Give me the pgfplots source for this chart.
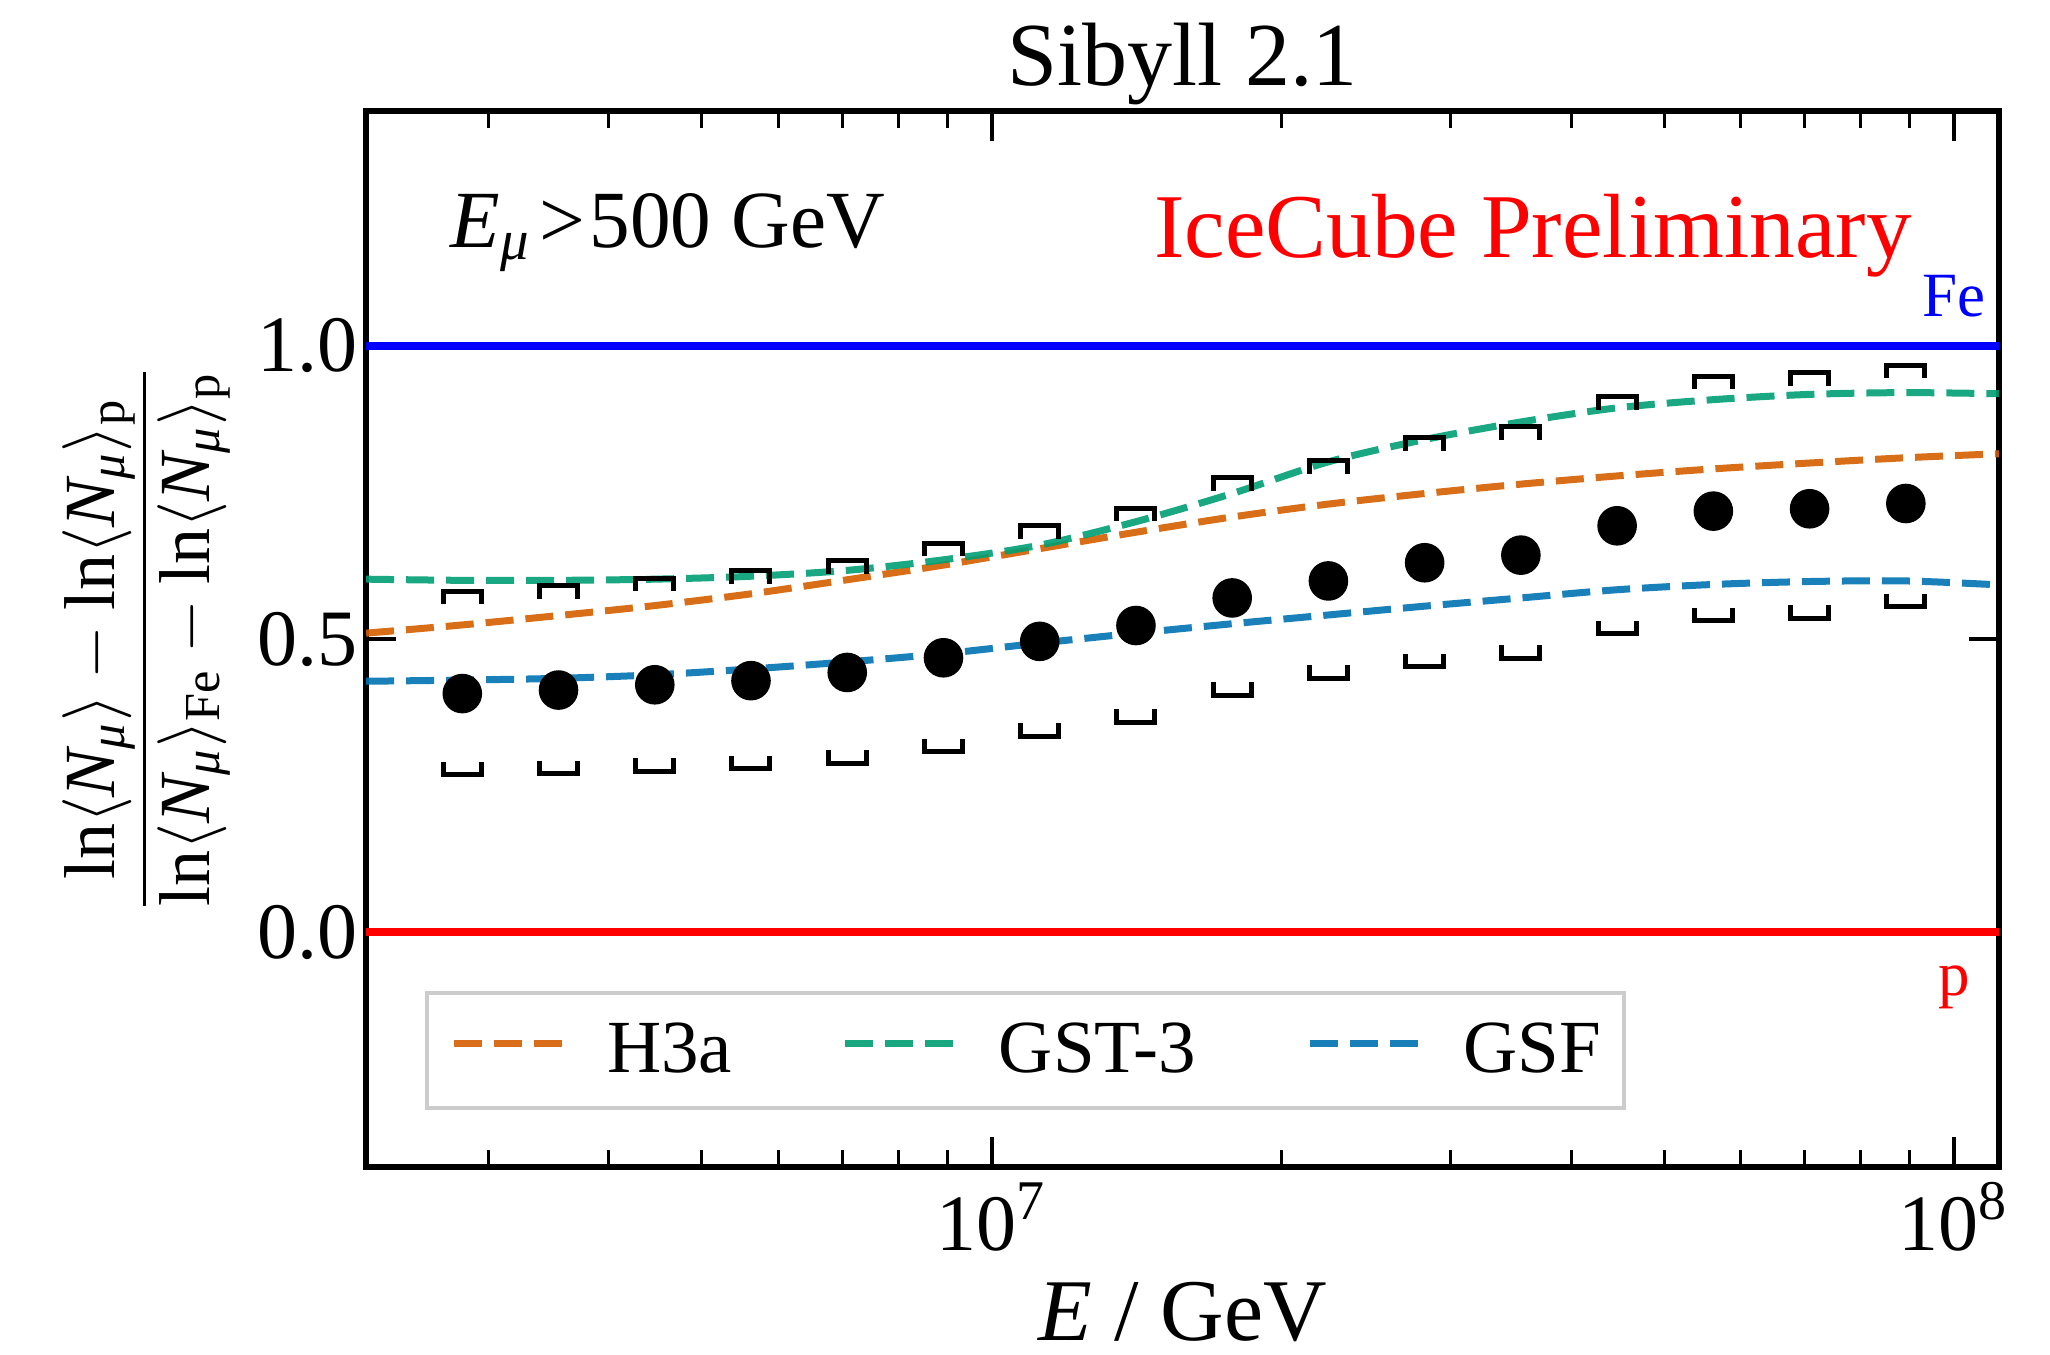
\documentclass[border=0pt]{standalone}
\usepackage{fontspec}
\setmainfont{Liberation Serif}
\usepackage{amsmath}
\usepackage{pgfplots}
\usepackage{pgfplotstable}
\pgfplotsset{compat=1.18}
\definecolor{cOrange}{HTML}{D55E00}
\definecolor{cGreen}{HTML}{009E73}
\definecolor{cBlue}{HTML}{0072B2}
\definecolor{legGray}{HTML}{CCCCCC}

\pgfdeclareplotmark{capup}{%
  \pgfpathmoveto{\pgfqpoint{-4.75pt}{-3.25pt}}%
  \pgfpathlineto{\pgfqpoint{-4.75pt}{0pt}}%
  \pgfpathlineto{\pgfqpoint{4.75pt}{0pt}}%
  \pgfpathlineto{\pgfqpoint{4.75pt}{-3.25pt}}%
  \pgfusepathqstroke}
\pgfdeclareplotmark{capdown}{%
  \pgfpathmoveto{\pgfqpoint{-4.75pt}{3.25pt}}%
  \pgfpathlineto{\pgfqpoint{-4.75pt}{0pt}}%
  \pgfpathlineto{\pgfqpoint{4.75pt}{0pt}}%
  \pgfpathlineto{\pgfqpoint{4.75pt}{3.25pt}}%
  \pgfusepathqstroke}

\pgfplotstableread{
E val up lo
2.8184e6 0.407 0.581 0.269
3.5481e6 0.413 0.591 0.270
4.4668e6 0.422 0.604 0.275
5.6234e6 0.429 0.616 0.279
7.0795e6 0.443 0.633 0.288
8.9125e6 0.468 0.663 0.308
1.1220e7 0.496 0.693 0.334
1.4125e7 0.523 0.723 0.358
1.7783e7 0.570 0.775 0.404
2.2387e7 0.599 0.804 0.433
2.8184e7 0.630 0.843 0.453
3.5481e7 0.643 0.862 0.467
4.4668e7 0.693 0.913 0.509
5.6234e7 0.718 0.948 0.531
7.0795e7 0.722 0.954 0.535
8.9125e7 0.731 0.967 0.555
}\datatab

\pgfplotstableread{
E h3a gst gsf
2.2387e6 0.510 0.602 0.428
2.8184e6 0.524 0.600 0.430
3.5481e6 0.540 0.600 0.433
4.4668e6 0.557 0.602 0.439
5.6234e6 0.577 0.607 0.449
7.0795e6 0.601 0.617 0.461
8.9125e6 0.626 0.635 0.475
1.1220e7 0.654 0.660 0.493
1.4125e7 0.682 0.700 0.510
1.7783e7 0.708 0.748 0.526
2.2387e7 0.730 0.802 0.541
2.8184e7 0.748 0.840 0.556
3.5481e7 0.764 0.870 0.570
4.4668e7 0.778 0.894 0.584
5.6234e7 0.790 0.908 0.593
7.0795e7 0.800 0.917 0.598
8.9125e7 0.809 0.920 0.599
1.1220e8 0.816 0.918 0.592
}\modeltab

\begin{document}
\begin{tikzpicture}
\useasboundingbox (-91.5pt,-46.75pt) rectangle (421pt,291.75pt);
\begin{axis}[
  name=ax,
  at={(0,0)}, anchor=south west,
  scale only axis, width=408.25pt, height=264pt,
  xmode=log,
  xmin=2.2387e6, xmax=1.114e8, ymin=-0.4, ymax=1.4,
  axis line style={line width=1.5pt},
  tick align=inside,
  major tick length=7.5pt, minor tick length=4.25pt,
  major tick style={line width=1pt, black},
  minor tick style={line width=0.75pt, black},
  xtick={1e7,1e8},
  xticklabels={10\textsuperscript{7},10\textsuperscript{8}},
  minor xtick={3e6,4e6,5e6,6e6,7e6,8e6,9e6,2e7,3e7,4e7,5e7,6e7,7e7,8e7,9e7},
  ytick={0,0.5,1},
  yticklabels={0.0,0.5,1.0},
  minor ytick={},
  ticklabel style={font=\fontsize{20pt}{24pt}\selectfont},
  xticklabel style={anchor=base, yshift=-20.75pt},
  yticklabel style={anchor=east, inner sep=0pt, xshift=-2pt},
  xlabel={$\textit{E}$ / GeV},
  xlabel style={at={(axis description cs:0.5,-0.164)}, anchor=base, inner sep=0pt, font=\fontsize{22pt}{26pt}\selectfont},
  ylabel={$\dfrac{\text{ln}\langle \textit{N}_{\textit{μ}}\rangle - \text{ln}\langle \textit{N}_{\textit{μ}}\rangle_{\text{p}}}{\text{ln}\langle \textit{N}_{\textit{μ}}\rangle_{\text{Fe}} - \text{ln}\langle \textit{N}_{\textit{μ}}\rangle_{\text{p}}}$},
  ylabel style={at={(axis description cs:-0.1345,0.5)}, anchor=center, inner sep=0pt, font=\fontsize{18pt}{22pt}\selectfont},
  legend columns=3,
  legend style={at={(rel axis cs:0.0361,0.054)}, anchor=south west,
    draw=legGray, line width=1pt, fill=white,
    inner xsep=5.75pt, inner ysep=7.45pt,
    font=\fontsize{18.75pt}{22pt}\selectfont,
    nodes={inner xsep=0pt, inner ysep=0pt},
    /tikz/every odd column/.append style={column sep=10pt},
    /tikz/every even column/.append style={column sep=27.5pt}},
  legend image code/.code={\draw[#1] (0pt,1.7pt) -- (27.5pt,1.7pt);},
]
\addplot[blue, line width=2pt, forget plot] coordinates {(1e6,1) (2e8,1)};
\addplot[red, line width=2pt, forget plot] coordinates {(1e6,0) (2e8,0)};

\addplot[only marks, mark=capup, black, mark options={line width=1.25pt, solid}, forget plot] table[x=E,y=up]{\datatab};
\addplot[only marks, mark=capdown, black, mark options={line width=1.25pt, solid}, forget plot] table[x=E,y=lo]{\datatab};
\addplot[only marks, mark=*, mark size=4.75pt, black, mark options={draw=black, fill=black}, forget plot] table[x=E,y=val]{\datatab};

\addplot[cOrange, opacity=0.9, line width=1.75pt, dash pattern=on 7pt off 3pt, smooth] table[x=E,y=h3a]{\modeltab};
\addlegendentry{H3a}
\addplot[cGreen, opacity=0.9, line width=1.75pt, dash pattern=on 7pt off 3pt, smooth] table[x=E,y=gst]{\modeltab};
\addlegendentry{GST-3}
\addplot[cBlue, opacity=0.9, line width=1.75pt, dash pattern=on 7pt off 3pt, smooth] table[x=E,y=gsf]{\modeltab};
\addlegendentry{GSF}

\node[anchor=base west, inner sep=0pt, font=\fontsize{20.3pt}{24pt}\selectfont] at (rel axis cs:0.0514,0.871) {$\textit{E}_{\textit{μ}}$\kern0.1em>\kern0.06em500 GeV};
\node[anchor=base east, inner sep=0pt, text=red, font=\fontsize{22.8pt}{27pt}\selectfont] at (rel axis cs:0.947,0.861) {IceCube Preliminary};
\node[anchor=base, inner sep=0pt, text=blue, font=\fontsize{15.75pt}{19pt}\selectfont] at (axis cs:1e8,1.0496) {Fe};
\node[anchor=base, inner sep=0pt, text=red, font=\fontsize{15.75pt}{19pt}\selectfont] at (axis cs:1e8,-0.108) {p};
\end{axis}
\node[anchor=base, inner sep=0pt, yshift=6.5pt, font=\fontsize{22.5pt}{27pt}\selectfont] at (ax.north) {Sibyll 2.1};
\end{tikzpicture}
\end{document}
